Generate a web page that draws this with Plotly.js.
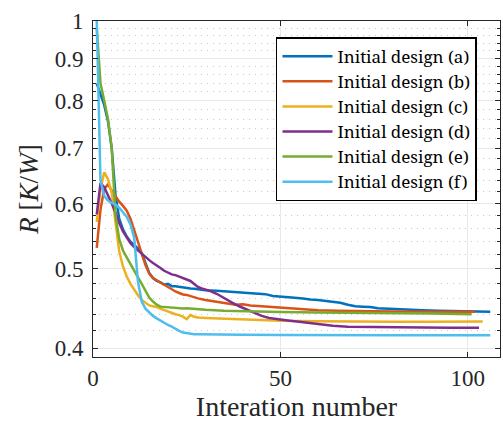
<!DOCTYPE html>
<html>
<head>
<meta charset="utf-8">
<script src="https://cdn.plot.ly/plotly-3.0.1.min.js"></script>
<style>
html,body{margin:0;padding:0;background:#fff;}
#chart{width:503px;height:423px;}
</style>
</head>
<body>
<div id="chart"></div>
<script>
// Series names
const seriesNames = ["Initial design (a)", "Initial design (b)", "Initial design (c)", "Initial design (d)", "Initial design (e)", "Initial design (f)"];

// (a)
const aX = [1,2,3,4,5,6,7,8,9,10,11,12,13,14,15,16,17,18,19,20,21,22,23,24,25,26,27,28,29,30,33,36,40,44,46,48,50,53,56,58,60,63,66,68,70,72,74,76,80,84,88,92,96,100,106];
const aY = [0.84,0.815,0.79,0.755,0.70,0.615,0.575,0.558,0.547,0.539,0.534,0.529,0.522,0.508,0.494,0.487,0.483,0.481,0.478,0.479,0.476,0.476,0.475,0.4745,0.474,0.473,0.4725,0.472,0.471,0.4705,0.470,0.469,0.468,0.467,0.4655,0.463,0.462,0.461,0.460,0.4585,0.458,0.456,0.4545,0.452,0.450,0.4495,0.449,0.4475,0.4465,0.446,0.445,0.4445,0.444,0.4435,0.4432];

// (b)
const bX = [1,2,3,4,5,6,7,8,9,10,11,12,13,14,15,16,17,18,19,20,21,22,23,24,25,26,27,28,30,32,34,36,38,40,42,45,48,52,56,60,65,70,80,90,102];
const bY = [0.53,0.59,0.625,0.633,0.622,0.612,0.603,0.596,0.588,0.575,0.557,0.54,0.522,0.505,0.493,0.487,0.484,0.481,0.477,0.474,0.471,0.469,0.467,0.465,0.4645,0.463,0.461,0.460,0.458,0.4565,0.455,0.453,0.452,0.4525,0.451,0.450,0.449,0.448,0.446,0.445,0.4445,0.444,0.4435,0.443,0.443];

// (c)
const cX = [1,2,3,4,5,6,7,8,9,10,11,12,13,14,15,16,17,18,19,20,21,22,23,24,25,26,27,28,30,35,40,45,50,60,70,80,90,104];
const cY = [0.57,0.625,0.655,0.642,0.618,0.57,0.525,0.503,0.489,0.479,0.471,0.464,0.458,0.454,0.451,0.45,0.449,0.447,0.445,0.443,0.442,0.440,0.439,0.437,0.434,0.439,0.437,0.436,0.4355,0.4345,0.434,0.433,0.432,0.4315,0.431,0.431,0.431,0.4312];

// (d)
const dX = [1,2,3,4,5,6,7,8,9,10,11,12,13,14,15,16,17,18,19,20,21,22,23,24,25,26,27,28,29,30,31,33,35,37,39,41,43,45,47,49,52,55,58,61,64,68,75,85,95,103];
const dY = [0.582,0.635,0.628,0.615,0.60,0.585,0.568,0.555,0.545,0.537,0.531,0.526,0.521,0.516,0.512,0.508,0.505,0.501,0.497,0.494,0.492,0.491,0.489,0.487,0.485,0.483,0.479,0.475,0.473,0.472,0.470,0.466,0.460,0.455,0.450,0.446,0.442,0.438,0.4355,0.434,0.4325,0.431,0.4292,0.428,0.426,0.425,0.4245,0.424,0.4238,0.4238];

// (e)
const eX = [1,2,3,4,5,6,7,8,9,10,11,12,13,14,15,16,17,18,19,20,21,22,23,24,25,26,27,28,30,35,40,45,50,60,70,80,90,101];
const eY = [0.98,0.84,0.80,0.76,0.70,0.58,0.543,0.526,0.516,0.507,0.498,0.488,0.479,0.469,0.461,0.456,0.452,0.4495,0.449,0.4485,0.448,0.448,0.4475,0.4472,0.4475,0.447,0.4468,0.4466,0.4455,0.4443,0.4435,0.443,0.4427,0.4423,0.442,0.4415,0.441,0.440];

// (f)
const fX = [1,2,3,4,5,6,7,8,9,10,11,12,13,14,15,16,17,18,19,20,21,22,23,24,25,26,27,28,30,40,50,60,80,106];
const fY = [1.0,0.64,0.613,0.605,0.601,0.598,0.593,0.586,0.578,0.566,0.545,0.482,0.456,0.447,0.442,0.438,0.435,0.432,0.429,0.427,0.425,0.422,0.420,0.418,0.4172,0.4165,0.416,0.416,0.4158,0.4155,0.4153,0.415,0.415,0.4148];

// Axis ticks
const xTickVals = [0, 50, 100];
const yTickVals = [0.4, 0.5, 0.6, 0.7, 0.8, 0.9, 1];
const yTickText = ["0.4", "0.5", "0.6", "0.7", "0.8", "0.9", "1"];
const yMinorVals = [0.42,0.44,0.46,0.48,0.52,0.54,0.56,0.58,0.62,0.64,0.66,0.68,0.72,0.74,0.76,0.78,0.82,0.84,0.86,0.88,0.92,0.94,0.96,0.98];

const colors = ["#0072BD", "#D95319", "#EDB120", "#7E2F8E", "#77AC30", "#4DBEEE"];
const xs = [aX, bX, cX, dX, eX, fX];
const ys = [aY, bY, cY, dY, eY, fY];

const FONT = "Liberation Serif";
const LFONT = "Noto Serif";
const data = seriesNames.map((n, i) => ({
  type: "scatter", mode: "lines", name: n,
  x: xs[i], y: ys[i],
  line: {color: colors[i], width: 2.5}
}));

const layout = {
  width: 503, height: 423,
  margin: {l: 93, r: 3, t: 21, b: 66},
  paper_bgcolor: "#fff", plot_bgcolor: "#fff",
  font: {family: FONT, color: "#262626"},
  showlegend: true,
  legend: {
    x: 0.4496, y: 0.952, xanchor: "left", yanchor: "top",
    bgcolor: "#fff", bordercolor: "#000", borderwidth: 1.5,
    font: {family: LFONT, size: 17, color: "#000"},
    itemwidth: 50, tracegroupgap: 0
  },
  xaxis: {
    range: [0, 108.6],
    tickmode: "array", tickvals: xTickVals,
    ticks: "inside", ticklen: 5, tickwidth: 1, tickcolor: "#262626",
    showline: true, linecolor: "#262626", linewidth: 1, mirror: "ticks",
    showgrid: true, gridcolor: "#e8e8e8", gridwidth: 1,
    zeroline: false,
    tickfont: {family: FONT, size: 23, color: "#262626"},
    title: {text: "Interation number", font: {family: FONT, size: 28, color: "#262626"}, standoff: 5}
  },
  yaxis: {
    type: "log",
    range: [Math.log10(0.3904), 0],
    tickmode: "array", tickvals: yTickVals, ticktext: yTickText,
    ticks: "inside", ticklen: 5, tickwidth: 1, tickcolor: "#262626",
    showline: true, linecolor: "#262626", linewidth: 1, mirror: "ticks",
    showgrid: true, gridcolor: "#e8e8e8", gridwidth: 1,
    zeroline: false,
    ticklabelstandoff: 4,
    minor: {tickmode: "array", tickvals: yMinorVals, ticks: "inside", ticklen: 3, tickcolor: "#262626",
            showgrid: true, gridcolor: "#c8c8c8", griddash: "1px,5px", gridwidth: 1},
    tickfont: {family: FONT, size: 23, color: "#262626"},
    title: {text: "<i>R</i> [<i>K</i>/<i>W</i>]", font: {family: FONT, size: 27, color: "#262626"}, standoff: 8}
  }
};

Plotly.newPlot("chart", data, layout, {displayModeBar: false, staticPlot: true});
</script>
</body>
</html>
